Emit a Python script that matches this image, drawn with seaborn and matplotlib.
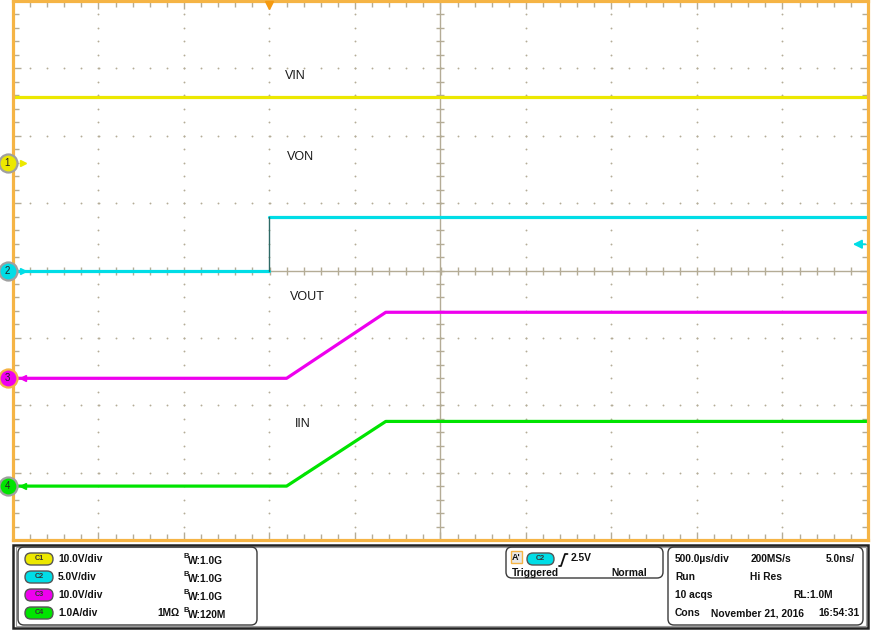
import numpy as np
import pandas as pd
import matplotlib
matplotlib.use("Agg")
import matplotlib.pyplot as plt
from matplotlib.patches import FancyBboxPatch, Rectangle
import seaborn as sns

# scope capture: 500 us/div, trigger 3 div from the left edge -> time in ms
t_start, t_stop = -1.5, 3.5

# waveform breakpoints (physical units)
vin_t = [-1.5, 3.5]
vin_v = [9.8, 9.8]
von_t = [-1.5, 0.0, 0.0, 3.5]
von_v = [0.0, 0.0, 4.0, 4.0]
vout_t = [-1.5, 0.1, 0.68, 3.5]
vout_v = [0.0, 0.0, 9.8, 9.8]
iin_t = [-1.5, 0.1, 0.68, 3.5]
iin_v = [0.0, 0.0, 0.96, 0.96]

channels = ["VIN", "VON", "VOUT", "IIN"]
scales = [10.0, 5.0, 10.0, 1.0]      # V/div or A/div
offsets = [1.59, 0.0, -1.6, -3.2]    # channel position, div
colors = ["#ece800", "#00dde6", "#ee00ee", "#00e400"]
trig_level = 1.95                    # where the C2 trigger arrow sits, V

label_pos = {"VIN": (0.09, 2.88), "VON": (0.10, 1.68),
             "VOUT": (0.12, -0.39), "IIN": (0.15, -2.28)}

grid_c = "#b4ac96"
frame_c = "#f5b445"

sns.set_theme(style="white")
plt.rcParams["font.family"] = ["Liberation Sans", "DejaVu Sans"]

# long table: one row per breakpoint, split into segments at vertical edges
rows = []
for name, ts, vs, sc, off in zip(channels, [vin_t, von_t, vout_t, iin_t],
                                 [vin_v, von_v, vout_v, iin_v], scales, offsets):
    seg = 0
    for i, (t, v) in enumerate(zip(ts, vs)):
        if i > 0 and t == ts[i - 1]:
            seg += 1
        rows.append({"channel": name, "seg": seg, "t": t, "div": v / sc + off})
df = pd.DataFrame(rows)

fig = plt.figure(figsize=(8.75, 6.41), dpi=100)
fig.patch.set_facecolor("white")
ax = fig.add_axes([13 / 875, 101 / 641, 855 / 875, 539 / 641])
ax.set_xlim(t_start, t_stop)
ax.set_ylim(-4, 4)

# dotted graticule
for xg in np.arange(t_start + 0.5, t_stop, 0.5):
    if abs(xg - 1.0) < 1e-9:
        continue
    yy = np.arange(-4, 4.01, 0.2)
    ax.scatter(np.full_like(yy, xg), yy, s=1.8, color=grid_c, lw=0, zorder=1)
for yg in range(-3, 4):
    if yg == 0:
        continue
    xx = np.arange(t_start, t_stop + 0.01, 0.1)
    ax.scatter(xx, np.full_like(xx, yg), s=1.8, color=grid_c, lw=0, zorder=1)

# centre cross with tick marks
ax.axhline(0, color=grid_c, lw=1.0, zorder=1)
ax.axvline(1.0, color=grid_c, lw=1.0, zorder=1)
xx = np.arange(t_start, t_stop + 0.01, 0.1)
ax.scatter(xx, np.zeros_like(xx), marker="|", s=30, color=grid_c, lw=1.0, zorder=1)
yy = np.arange(-4, 4.01, 0.2)
ax.scatter(np.full_like(yy, 1.0), yy, marker="_", s=30, color=grid_c, lw=1.0, zorder=1)

# edge ticks
ax.set_xticks(np.arange(t_start, t_stop + 0.01, 0.5))
ax.set_xticks(np.arange(t_start, t_stop + 0.01, 0.1), minor=True)
ax.set_yticks(np.arange(-4, 4.01, 1))
ax.set_yticks(np.arange(-4, 4.01, 0.2), minor=True)
ax.tick_params(which="both", direction="in", top=True, right=True, bottom=True, left=True,
               labelbottom=False, labelleft=False, color=grid_c, width=1.0)
ax.tick_params(which="major", length=6)
ax.tick_params(which="minor", length=4.5)
for sp in ax.spines.values():
    sp.set_color(frame_c)
    sp.set_linewidth(2.3)
    sp.set_zorder(5)

# traces
sns.lineplot(data=df, x="t", y="div", hue="channel", units="seg", estimator=None,
             sort=False, palette=dict(zip(channels, colors)), lw=2.3, legend=False,
             ax=ax, zorder=3)
for name in channels:
    d = df[df.channel == name].reset_index(drop=True)
    for i in range(1, len(d)):
        if d.t[i] == d.t[i - 1]:
            ax.plot([d.t[i], d.t[i]], [d["div"][i - 1], d["div"][i]],
                    color="#2e6a66", lw=1.0, zorder=3)
ax.set_xlabel("")
ax.set_ylabel("")

for name in channels:
    x, y = label_pos[name]
    ax.text(x, y, name, fontsize=9, color="#1a1a1a", va="center", ha="left", zorder=4)

# channel position markers on the left edge
ytr = ax.get_yaxis_transform()
for i, (off, c) in enumerate(zip(offsets, colors)):
    ax.plot(-0.006, off, marker="o", ms=13, mfc=c,
            mec=frame_c if i == 2 else "#a0a0a0", mew=1.6,
            transform=ytr, clip_on=False, zorder=7)
    ax.text(-0.0065, off, str(i + 1), fontsize=7, ha="center", va="center",
            color="#222222", transform=ytr, zorder=8, clip_on=False)
    ax.plot(0.012, off, marker=">" if i < 2 else "<", ms=5, color=c, mec=c,
            transform=ytr, clip_on=False, zorder=6)

# trigger level arrow on the right edge, trigger position at the top
lvl = trig_level / scales[1] + offsets[1]
ax.annotate("", xy=(0.979, lvl), xytext=(1.0, lvl), xycoords=ytr, textcoords=ytr,
            arrowprops=dict(arrowstyle="-|>", color=colors[1], lw=1.3,
                            mutation_scale=13), zorder=6)
ax.plot(0.0, 0.992, marker="v", ms=6, color="#f59a10",
        transform=ax.get_xaxis_transform(), clip_on=False, zorder=7)

# ---- status panel below the screen (pixel layout via inches) ----
tr = fig.dpi_scale_trans


def P(px, py):
    return px / 100.0, (641 - py) / 100.0


def box(x0, y0, x1, y1, r=0.06, ec="#3a3a3a", fc="none", lw=1.0, z=2):
    xa, ya = P(x0, y1)
    w, h = (x1 - x0) / 100.0, (y1 - y0) / 100.0
    fig.patches.append(FancyBboxPatch((xa, ya), w, h,
                                      boxstyle=f"round,pad=0,rounding_size={r}",
                                      transform=tr, ec=ec, fc=fc, lw=lw, zorder=z))


def txt(px, py, s, size=7.4, **kw):
    x, y = P(px, py)
    fig.text(x, y, s, transform=tr, fontsize=size, fontweight="bold",
             va="center", ha=kw.pop("ha", "left"), color=kw.pop("color", "#111111"), **kw)


xa, ya = P(13, 628)
fig.patches.append(Rectangle((xa, ya), 855 / 100, 83 / 100, transform=tr,
                             fc="white", ec="#222222", lw=1.8, zorder=1))
fig.patches.append(Rectangle((xa + 0.025, ya + 0.02), 855 / 100 - 0.045, 83 / 100 - 0.04,
                             transform=tr, fc="none", ec="#9a9a9a", lw=0.8, zorder=1))

box(18, 547, 257, 625)
box(506, 547, 663, 578)
box(668, 547, 863, 625)

ch_text = ["10.0V/div", "5.0V/div", "10.0V/div", "1.0A/div"]
bw_text = ["1.0G", "1.0G", "1.0G", "120M"]
row_y = [559, 577, 595, 613]
for i in range(4):
    y = row_y[i]
    box(25, y - 6, 53, y + 6, r=0.06, ec="#555555", fc=colors[i], lw=1.0, z=3)
    txt(39, y, f"C{i + 1}", size=5.2, ha="center", color="#333333")
    txt(58, y, ch_text[i])
    txt(184, y - 3, "B", size=5.5)
    txt(188, y + 1.5, "W:" + bw_text[i])
txt(157, 613, "1M\u03a9")

# trigger box
xa, ya = P(511, 563)
fig.patches.append(Rectangle((xa, ya), 0.11, 0.12, transform=tr, fc="#e8e8e8",
                             ec=frame_c, lw=1.0, zorder=3))
txt(516, 557, "A'", size=6.5, ha="center")
box(527, 553, 554, 565, r=0.06, ec="#555555", fc=colors[1], lw=1.0, z=3)
txt(540.5, 559, "C2", size=5.2, ha="center", color="#333333")
xs, ys = P(559, 566)
fig.lines.append(plt.Line2D([xs, xs + 0.02, xs + 0.04, xs + 0.06, xs + 0.085],
                            [ys, ys, ys + 0.06, ys + 0.12, ys + 0.12],
                            transform=tr, color="#111111", lw=1.3))
txt(571, 558, "2.5V")
txt(512, 573, "Triggered")
txt(611, 573, "Normal")

# acquisition box
txt(675, 559, "500.0\u00b5s/div")
txt(751, 559, "200MS/s")
txt(826, 559, "5.0ns/")
txt(675, 577, "Run")
txt(750, 577, "Hi Res")
txt(675, 595, "10 acqs")
txt(793, 595, "RL:1.0M")
txt(675, 613, "Cons")
txt(711, 613, "November 21, 2016")
txt(818, 613, "16:54:31")

fig.savefig("out.png", dpi=100)
